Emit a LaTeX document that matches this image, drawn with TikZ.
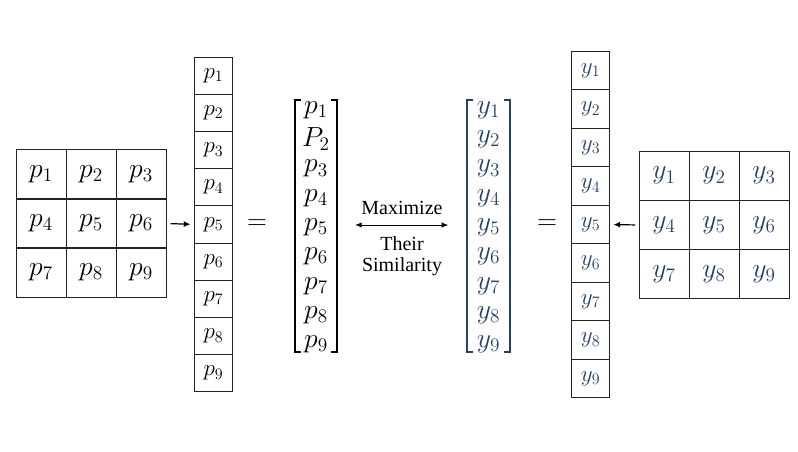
\documentclass[tikz,border=0pt]{standalone}
\usepackage[no-math]{fontspec}
\usepackage{tikz}
\usepackage{xcolor}
\usetikzlibrary{arrows.meta,positioning,calc}
\newfontfamily\labelfont{Liberation Serif}
\definecolor{ynavy}{HTML}{24406E}
\definecolor{lineblk}{HTML}{222222}

\begin{document}
\begin{tikzpicture}[x=0.75pt,y=-0.75pt,
  gridcell/.style={draw=lineblk, line width=0.75pt, minimum width=37.5pt, minimum height=36.9pt, inner sep=0pt, font=\fontsize{20}{20}\selectfont},
  colcell/.style={draw=lineblk, line width=0.75pt, minimum width=27.8pt, minimum height=#1, inner sep=0pt, font=\fontsize{18}{18}\selectfont},
  entry/.style={inner sep=0pt, font=\fontsize{20}{20}\selectfont},
  bracket/.style={line width=1.1pt},
  flat/.style={-{Latex[length=5pt,width=4.5pt]}, line width=0.9pt},
  both/.style={{Latex[length=5pt,width=4pt]}-{Latex[length=5pt,width=4pt]}, line width=0.7pt},
  simtext/.style={font=\labelfont\fontsize{15}{15}\selectfont, inner sep=0pt},
]
\useasboundingbox (0,0) rectangle (798,451);

% image patch p and its flattened column
\foreach \i in {1,...,9} {
  \pgfmathtruncatemacro{\r}{(\i-1)/3}
  \pgfmathtruncatemacro{\c}{mod(\i-1,3)}
  \node[gridcell] (pg\i) at (41+\c*50, 174.5+\r*49) {$p_{\i}$};
  \node[colcell=27.9pt] (pc\i) at (213.5, 75.6+\i*37.2-37.2) {$p_{\i}$\hspace{4pt}};
}
\draw[flat, shorten <=3pt, shorten >=3pt] (pg6.east) -- (pc5.west);
\node[font=\fontsize{20}{20}\selectfont] (eqL) at (257,225) {$=$};

% target patch y and its flattened column
\foreach \i in {1,...,9} {
  \pgfmathtruncatemacro{\r}{(\i-1)/3}
  \pgfmathtruncatemacro{\c}{mod(\i-1,3)}
  \node[gridcell, text=ynavy] (yg\i) at (664+\c*50, 175.7+\r*49.3) {$y_{\i}$};
  \node[colcell=28.9pt, text=ynavy] (yc\i) at (590.5, 70.3+\i*38.55-38.55) {$y_{\i}$\hspace{5pt}};
}
\draw[flat, shorten <=2.5pt, shorten >=3pt] (yg4.west) -- (yc5.east);
\node[font=\fontsize{20}{20}\selectfont] (eqR) at (547,225) {$=$};

% the two vectors
\foreach \i in {1,...,9} {
  \node[entry] (pv\i) at (316, 110+\i*29.3-29.3) {$\ifnum\i=2 P\else p\fi_{\i}$};
  \node[entry, text=ynavy] (yv\i) at (488.5, 110+\i*29.3-29.3) {$y_{\i}$};
}
\draw[bracket] (301,100) -- (295,100) -- (295,352) -- (301,352);
\draw[bracket] (331,100) -- (337,100) -- (337,352) -- (331,352);
\draw[bracket, ynavy] (473,100) -- (467,100) -- (467,352) -- (473,352);
\draw[bracket, ynavy] (504,100) -- (510,100) -- (510,352) -- (504,352);

\coordinate (pvec) at (337,225);
\coordinate (yvec) at (467,225);
\draw[both, shorten <=13.5pt, shorten >=14pt] (pvec) -- (yvec);
\node[simtext] (maxi) at (402,208) {Maximize};
\node[simtext] (their) at (402,244) {Their};
\node[simtext] (simil) at (402,267) {Similarity};
\end{tikzpicture}
\end{document}
